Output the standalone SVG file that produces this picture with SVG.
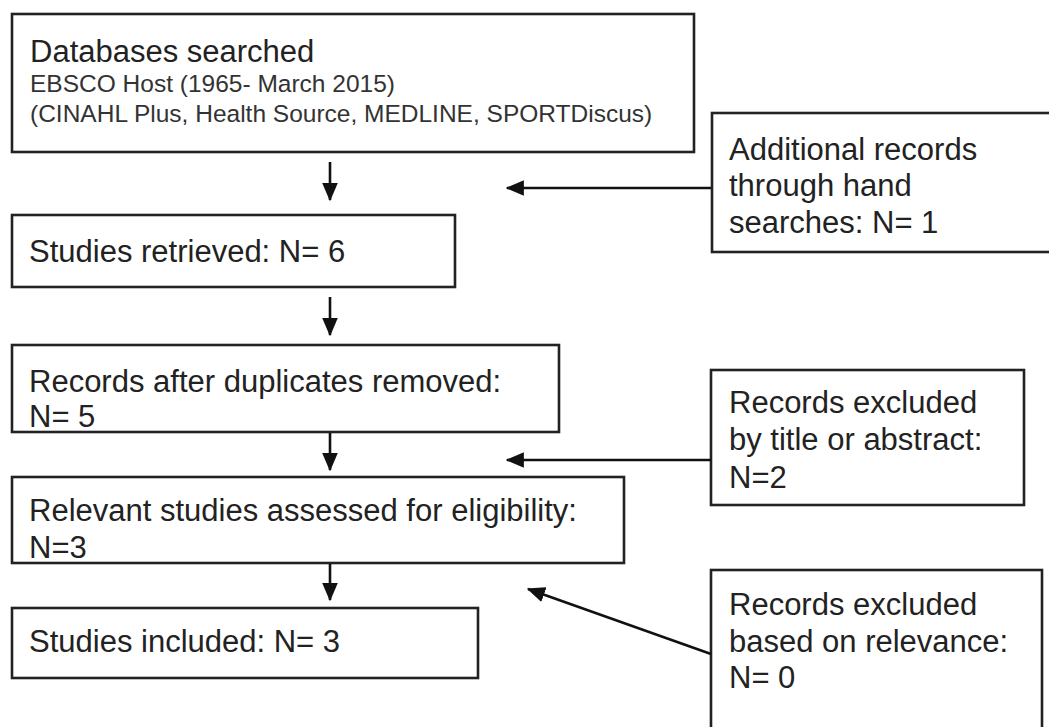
<svg xmlns="http://www.w3.org/2000/svg" width="1049" height="727" viewBox="0 0 1049 727">
<style>
.box{fill:#fff;stroke:#222;stroke-width:2.6}
.t{font-family:"Liberation Sans",Arial,sans-serif;font-size:31px;fill:#222}
.s{font-family:"Liberation Sans",Arial,sans-serif;font-size:24.5px;fill:#333}
.c{stroke:#111;stroke-width:2.6;fill:none;marker-end:url(#ah)}
</style>
<defs>
<marker id="ah" markerWidth="7" markerHeight="6" refX="6.5" refY="3" orient="auto" markerUnits="strokeWidth">
<path d="M0,0 L7,3 L0,6 Z" fill="#111"/>
</marker>
</defs>
<rect width="1049" height="727" fill="#fff"/>
<g id="n1">
<rect class="box" x="12" y="14" width="682" height="138"/>
<text class="t" x="30" y="62">Databases searched</text>
<text class="s" x="30" y="92">EBSCO Host (1965- March 2015)</text>
<text class="s" x="30" y="122">(CINAHL Plus, Health Source, MEDLINE, SPORTDiscus)</text>
</g>
<g id="nA">
<rect class="box" x="712" y="113" width="360" height="139"/>
<text class="t" x="729" y="160">Additional records</text>
<text class="t" x="729" y="196">through hand</text>
<text class="t" x="729" y="233">searches: N= 1</text>
</g>
<g id="n2">
<rect class="box" x="12" y="215" width="443" height="72"/>
<text class="t" x="29" y="262">Studies retrieved: N= 6</text>
</g>
<g id="n3">
<rect class="box" x="12" y="345" width="547" height="87"/>
<text class="t" x="29" y="392">Records after duplicates removed:</text>
<text class="t" x="29" y="427">N= 5</text>
</g>
<g id="nB">
<rect class="box" x="711" y="370" width="313" height="135"/>
<text class="t" x="729" y="413">Records excluded</text>
<text class="t" x="729" y="450">by title or abstract:</text>
<text class="t" x="729" y="488">N=2</text>
</g>
<g id="n4">
<rect class="box" x="12" y="477" width="612" height="86"/>
<text class="t" x="29" y="521">Relevant studies assessed for eligibility:</text>
<text class="t" x="29" y="558">N=3</text>
</g>
<g id="nC">
<rect class="box" x="711" y="570" width="331" height="180"/>
<text class="t" x="729" y="615">Records excluded</text>
<text class="t" x="729" y="652">based on relevance:</text>
<text class="t" x="729" y="688">N= 0</text>
</g>
<g id="n5">
<rect class="box" x="12" y="608" width="466" height="70"/>
<text class="t" x="29" y="652">Studies included: N= 3</text>
</g>
<g id="connectors">
<line class="c" x1="330" y1="162" x2="330" y2="200"/>
<line class="c" x1="711" y1="188" x2="507" y2="188"/>
<line class="c" x1="330" y1="297" x2="330" y2="335"/>
<line class="c" x1="330" y1="433" x2="330" y2="470"/>
<line class="c" x1="711" y1="460" x2="507" y2="460"/>
<line class="c" x1="330" y1="564" x2="330" y2="600"/>
<line class="c" x1="711" y1="654" x2="528" y2="589"/>
</g>
</svg>
